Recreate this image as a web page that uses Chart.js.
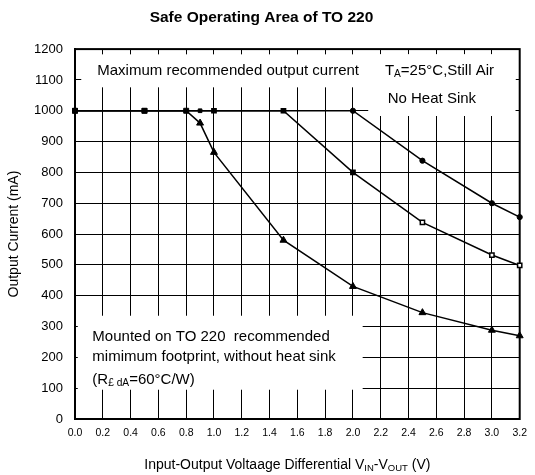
<!DOCTYPE html>
<html>
<head>
<meta charset="utf-8">
<script src="https://cdn.jsdelivr.net/npm/chart.js@4.4.1/dist/chart.umd.min.js"></script>
<style>
  html, body { margin: 0; padding: 0; background: #fff; }
  #wrap { width: 535px; height: 475px; }
</style>
</head>
<body>
<div id="wrap"><canvas id="soa"></canvas></div>
<script>
// curve with the round dots (upper one)
const voltsA = [0, 0.5, 0.9, 1.5, 2.0, 2.5, 3.0, 3.2];
const currentA = [1000, 1000, 1000, 1000, 1000, 838, 700, 655];
// curve with the open squares
const voltsB = [0, 0.5, 1.0, 1.5, 2.0, 2.5, 3.0, 3.2];
const currentB = [1000, 1000, 1000, 1000, 800, 638, 532, 498];
// curve with the triangles
const voltsC = [0, 0.5, 0.8, 0.9, 1.0, 1.5, 2.0, 2.5, 3.0, 3.2];
const currentC = [1000, 1000, 1000, 960, 865, 580, 430, 345, 288, 270];

const FONT = "'Liberation Sans', Arial, sans-serif";

const toPoints = (xs, ys) => xs.map((x, i) => ({ x: x, y: ys[i] }));
const onFlat = (ctx) => ctx.raw && ctx.raw.y === 1000;

// rich text: [{t, sub}]
const drawRich = (ctx, parts, x, y, size) => {
    ctx.save();
    ctx.fillStyle = "#000";
    ctx.textBaseline = "middle";
    ctx.textAlign = "left";
    let cx = x;
    parts.forEach((p) => {
        const s = p.sub ? size * 0.68 : size;
        ctx.font = s + "px " + FONT;
        ctx.fillText(p.t, cx, p.sub ? y + size * 0.22 : y);
        cx += ctx.measureText(p.t).width;
    });
    ctx.restore();
    return cx - x;
};

const richWidth = (ctx, parts, size) => {
    ctx.save();
    let w = 0;
    parts.forEach((p) => {
        ctx.font = (p.sub ? size * 0.68 : size) + "px " + FONT;
        w += ctx.measureText(p.t).width;
    });
    ctx.restore();
    return w;
};

// white boxes behind the notes, in data units [x0, x1, yTop, yBottom]
const noteBoxes = [
    [0.045, 3.17, 1183, 1076],
    [2.11, 3.17, 1183, 983],
    [0.02, 2.07, 335, 95],
];

const notes = [
    { x: 0.16, y: 1128, parts: [{ t: "Maximum recommended output current" }] },
    { x: 2.23, y: 1128, parts: [{ t: "T" }, { t: "A", sub: true }, { t: "=25°C,Still Air" }] },
    { x: 2.25, y: 1037, parts: [{ t: "No Heat Sink" }] },
    { x: 0.125, y: 267, parts: [{ t: "Mounted on TO 220  recommended" }] },
    { x: 0.125, y: 202, parts: [{ t: "mimimum footprint, without heat sink" }] },
    { x: 0.125, y: 127, parts: [{ t: "(R" }, { t: "£ ", sub: true }, { t: "dA", sub: true }, { t: "=60°C/W)" }] },
];

const xTitle = [
    { t: "Input-Output Voltaage Differential V" },
    { t: "IN", sub: true },
    { t: "-V" },
    { t: "OUT", sub: true },
    { t: " (V)" },
];

const decor = {
    id: "decor",
    beforeDatasetsDraw(chart) {
        const { ctx, chartArea: a, scales } = chart;
        const sx = scales.x, sy = scales.y;
        ctx.save();
        ctx.fillStyle = "#fff";
        noteBoxes.forEach(([x0, x1, y0, y1]) => {
            const l = sx.getPixelForValue(x0), r = sx.getPixelForValue(x1);
            const t = sy.getPixelForValue(y0), b = sy.getPixelForValue(y1);
            ctx.fillRect(l, t, r - l, b - t);
        });
        notes.forEach((n) => {
            drawRich(ctx, n.parts, sx.getPixelForValue(n.x), sy.getPixelForValue(n.y), 15);
        });
        ctx.strokeStyle = "#000";
        ctx.lineWidth = 2;
        ctx.strokeRect(a.left, a.top, a.right - a.left, a.bottom - a.top);
        ctx.restore();
    },
    afterDraw(chart) {
        const { ctx, chartArea: a } = chart;
        const size = 14;
        const w = richWidth(ctx, xTitle, size);
        const cx = (a.left + a.right) / 2 - 10;
        drawRich(ctx, xTitle, cx - w / 2, chart.height - 10, size);
    },
};

new Chart(document.getElementById("soa"), {
    type: "line",
    data: {
        datasets: [
            {
                data: toPoints(voltsA, currentA),
                borderColor: "#000",
                borderWidth: 1.5,
                pointStyle: (ctx) => (onFlat(ctx) && ctx.raw.x < 2 ? "rect" : "circle"),
                pointRadius: 2.6,
                pointBackgroundColor: "#000",
                pointBorderColor: "#000",
                pointBorderWidth: 1,
            },
            {
                data: toPoints(voltsB, currentB),
                borderColor: "#000",
                borderWidth: 1.5,
                pointStyle: "rect",
                pointRadius: 3,
                pointBackgroundColor: (ctx) => (onFlat(ctx) || (ctx.raw && ctx.raw.x === 2.0) ? "#000" : "#fff"),
                pointBorderColor: "#000",
                pointBorderWidth: 1.5,
            },
            {
                data: toPoints(voltsC, currentC),
                borderColor: "#000",
                borderWidth: 1.5,
                pointStyle: (ctx) => (onFlat(ctx) ? "rect" : "triangle"),
                pointRadius: (ctx) => (onFlat(ctx) ? 3.5 : 4),
                pointBackgroundColor: "#000",
                pointBorderColor: "#000",
                pointBorderWidth: 1,
            },
        ],
    },
    options: {
        responsive: true,
        maintainAspectRatio: false,
        animation: false,
        clip: false,
        layout: { padding: { right: 12, left: 0, bottom: 0 } },
        plugins: {
            legend: { display: false },
            tooltip: { enabled: false },
            title: {
                display: true,
                text: "Safe Operating Area of TO 220",
                color: "#000",
                font: { family: FONT, size: 15.5, weight: "bold" },
                padding: { top: 8, bottom: 22.5 },
            },
        },
        scales: {
            x: {
                type: "linear",
                min: 0,
                max: 3.2,
                afterFit: (s) => { s.height = 56; },
                ticks: {
                    stepSize: 0.2,
                    color: "#000",
                    padding: 8,
                    maxRotation: 0,
                    font: { family: FONT, size: 10.5 },
                    callback: (v) => Number(v).toFixed(1),
                },
                grid: { color: "#000", lineWidth: 1, drawTicks: false },
                border: { color: "#000", width: 2 },
            },
            y: {
                min: 0,
                max: 1200,
                afterFit: (s) => { s.width = 75; },
                ticks: {
                    stepSize: 100,
                    color: "#000",
                    padding: 12,
                    font: { family: FONT, size: 13 },
                    callback: (v) => String(v),
                },
                grid: { color: "#000", lineWidth: 1, drawTicks: false },
                border: { color: "#000", width: 2 },
                title: {
                    display: true,
                    text: "Output Current (mA)",
                    color: "#000",
                    font: { family: FONT, size: 14 },
                    padding: { top: 6, bottom: 0 },
                },
            },
        },
    },
    plugins: [decor],
});
</script>
</body>
</html>
